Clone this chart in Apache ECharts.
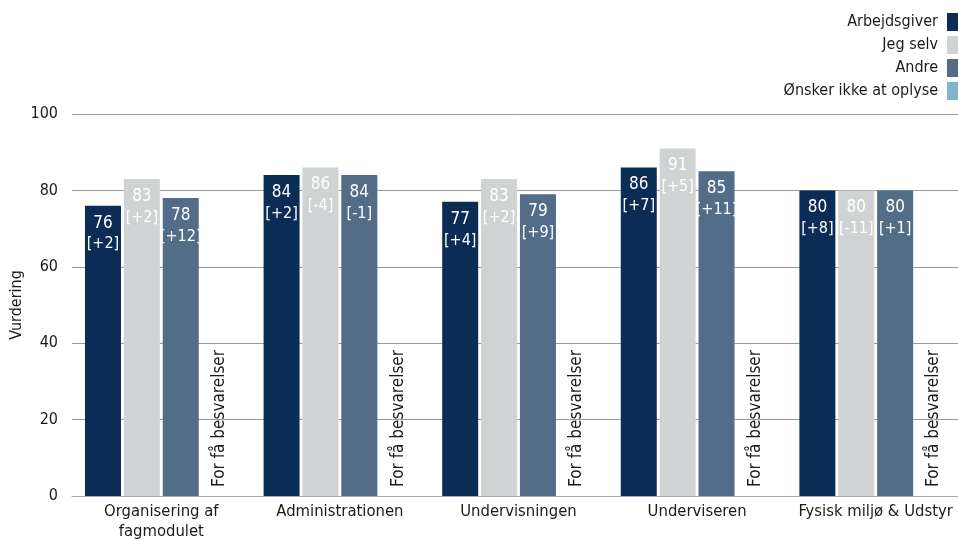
<!DOCTYPE html>
<html>
<head>
<meta charset="utf-8">
<script src="https://cdn.jsdelivr.net/npm/echarts@6/dist/echarts.min.js"></script>
<style>html,body{margin:0;padding:0;background:#fff}#c{width:958px;height:540px}</style>
</head>
<body>
<div id="c"></div>
<script>
const categories = ['Organisering af\nfagmodulet', 'Administrationen', 'Undervisningen', 'Underviseren', 'Fysisk miljø & Udstyr'];
const seriesNames = ['Arbejdsgiver', 'Jeg selv', 'Andre', 'Ønsker ikke at oplyse'];
const arbejdsgiver = [76, 84, 77, 86, 80];
const arbejdsgiverDiff = ['+2', '+2', '+4', '+7', '+8'];
const jegSelv = [83, 86, 83, 91, 80];
const jegSelvDiff = ['+2', '-4', '+2', '+5', '-11'];
const andre = [78, 84, 79, 85, 80];
const andreDiff = ['+12', '-1', '+9', '+11', '+1'];
const onsker = [null, null, null, null, null];
const tooFewText = 'For få besvarelser';
const yTicks = [0, 20, 40, 60, 80, 100];

const FONT = '"DejaVu Sans Condensed", "DejaVu Sans", sans-serif';
const colors = ['#0b2d55', '#d0d3d3', '#536d88', '#7db7cc'];

function valSeries(name, vals, diffs, color) {
  return {
    name, type: 'bar', barWidth: 36, barGap: '8%',
    itemStyle: { color },
    data: vals.map((v, i) => ({ value: v, diff: diffs[i] })),
    label: {
      show: true, position: 'insideTop', distance: 7,
      color: '#ffffff', fontFamily: FONT,
      formatter: p => '{v|' + p.value + '}\n{d|[' + p.data.diff + ']}',
      rich: {
        v: { color: '#ffffff', fontFamily: FONT, fontSize: 17, lineHeight: 21 },
        d: { color: '#ffffff', fontFamily: FONT, fontSize: 16, lineHeight: 21 }
      }
    }
  };
}

const chart = echarts.init(document.getElementById('c'));
chart.setOption({
  animation: false,
  textStyle: { fontFamily: FONT },
  legend: {
    orient: 'vertical', right: -7, top: 8, align: 'right',
    itemWidth: 13, itemHeight: 18, itemGap: 5, icon: 'rect',
    textStyle: { fontFamily: FONT, fontSize: 16, color: '#1a1a1a', padding: [0, 4, 0, 0] },
    data: seriesNames
  },
  grid: { left: 72, top: 114, width: 893, bottom: 44, containLabel: false, outerBoundsMode: 'none' },
  xAxis: {
    type: 'category', data: categories,
    axisLine: { lineStyle: { color: '#a8a8a8', width: 1 } },
    axisTick: { show: false },
    axisLabel: { fontFamily: FONT, fontSize: 16.5, color: '#1a1a1a', margin: 6, lineHeight: 20, interval: 0 }
  },
  yAxis: {
    type: 'value', min: yTicks[0], max: yTicks[yTicks.length - 1], interval: 20,
    name: 'Vurdering', nameLocation: 'middle', nameGap: 47, nameMoveOverlap: false,
    nameTextStyle: { fontFamily: FONT, fontSize: 16, color: '#1a1a1a' },
    axisLine: { show: false }, axisTick: { show: false },
    axisLabel: { fontFamily: FONT, fontSize: 16, color: '#1a1a1a', margin: 14 },
    splitLine: { lineStyle: { color: '#9a9a9a', width: 1 } }
  },
  series: [
    valSeries(seriesNames[0], arbejdsgiver, arbejdsgiverDiff, colors[0]),
    valSeries(seriesNames[1], jegSelv, jegSelvDiff, colors[1]),
    valSeries(seriesNames[2], andre, andreDiff, colors[2]),
    {
      name: seriesNames[3], type: 'bar', barWidth: 36, barGap: '8%',
      itemStyle: { color: colors[3] },
      data: onsker.map(v => (v == null ? { value: 0, note: tooFewText } : { value: v, note: String(v) })),
      label: {
        show: true, position: 'insideBottom', distance: 9, rotate: 90,
        align: 'left', verticalAlign: 'middle',
        color: '#1a1a1a', fontFamily: FONT, fontSize: 17,
        formatter: p => p.data.note
      }
    }
  ]
});
</script>
</body>
</html>
